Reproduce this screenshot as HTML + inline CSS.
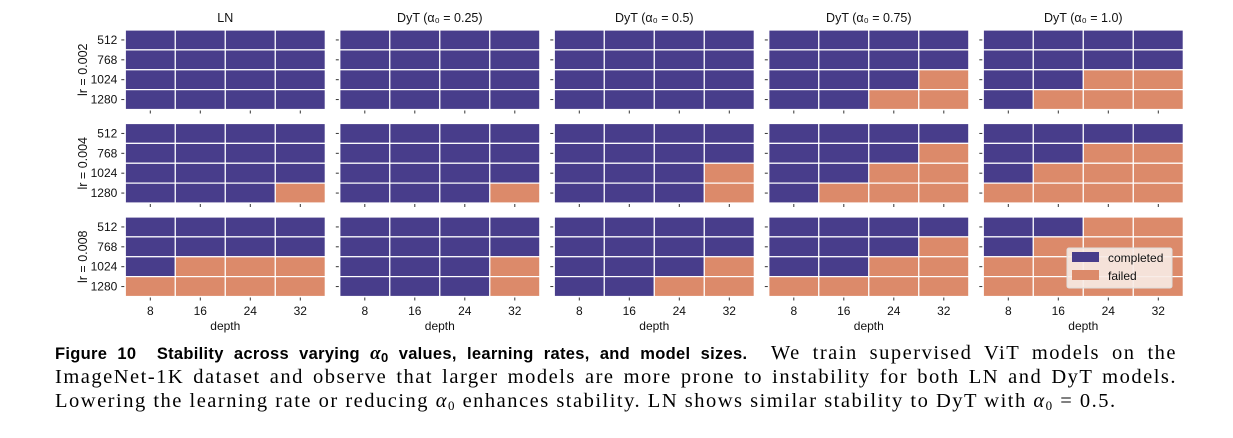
<!DOCTYPE html>
<html><head><meta charset="utf-8"><style>
body{margin:0;background:#fff;width:1233px;height:438px;overflow:hidden;position:relative;font-family:"Liberation Sans",sans-serif}
#cap{position:absolute;left:55px;top:341px;width:1122px;font-family:"Liberation Serif",serif;font-size:20.5px;letter-spacing:1.5px;line-height:24px;color:#000}
#cap div{text-align:justify;text-align-last:justify;white-space:nowrap;height:24px}
#cap div.last{text-align-last:left}
#cap b{font-family:"Liberation Sans",sans-serif;font-size:16.5px;letter-spacing:0.3px}
sub{line-height:0;font-size:13px;vertical-align:-3px}
</style></head><body>
<svg id="chart" width="1233" height="335" style="position:absolute;left:0;top:0" font-family="Liberation Sans, sans-serif"></svg>
<div id="cap">
<div style="white-space:normal"><b>Figure 10&nbsp;&nbsp;Stability across varying <i style="font-family:'Liberation Serif',serif;font-size:19px">α</i><sub>0</sub> values, learning rates, and model sizes.</b>&nbsp; We train supervised ViT models on the</div>
<div style="white-space:normal">ImageNet-1K dataset and observe that larger models are more prone to instability for both LN and DyT models.</div>
<div class="last">Lowering the learning rate or reducing <i>α</i><sub>0</sub> enhances stability. LN shows similar stability to DyT with <i>α</i><sub>0</sub> = 0.5.</div>
</div>
<script>
const panels=["LN","DyT (α₀ = 0.25)","DyT (α₀ = 0.5)","DyT (α₀ = 0.75)","DyT (α₀ = 1.0)"];
const lrs=["lr = 0.002","lr = 0.004","lr = 0.008"];
const sizes=["512","768","1024","1280"];
const depths=["8","16","24","32"];
// status[panel][lr][size][depth]: 1 = failed
const statusLN=[[[0,0,0,0],[0,0,0,0],[0,0,0,0],[0,0,0,0]],[[0,0,0,0],[0,0,0,0],[0,0,0,0],[0,0,0,1]],[[0,0,0,0],[0,0,0,0],[0,1,1,1],[1,1,1,1]]];
const statusD025=[[[0,0,0,0],[0,0,0,0],[0,0,0,0],[0,0,0,0]],[[0,0,0,0],[0,0,0,0],[0,0,0,0],[0,0,0,1]],[[0,0,0,0],[0,0,0,0],[0,0,0,1],[0,0,0,1]]];
const statusD05=[[[0,0,0,0],[0,0,0,0],[0,0,0,0],[0,0,0,0]],[[0,0,0,0],[0,0,0,0],[0,0,0,1],[0,0,0,1]],[[0,0,0,0],[0,0,0,0],[0,0,0,1],[0,0,1,1]]];
const statusD075=[[[0,0,0,0],[0,0,0,0],[0,0,0,1],[0,0,1,1]],[[0,0,0,0],[0,0,0,1],[0,0,1,1],[0,1,1,1]],[[0,0,0,0],[0,0,0,1],[0,0,1,1],[1,1,1,1]]];
const statusD10=[[[0,0,0,0],[0,0,0,0],[0,0,1,1],[0,1,1,1]],[[0,0,0,0],[0,0,1,1],[0,1,1,1],[1,1,1,1]],[[0,0,1,1],[0,1,1,1],[1,1,1,1],[1,1,1,1]]];
const status=[statusLN,statusD025,statusD05,statusD075,statusD10];

const svg=document.getElementById('chart');
const NS='http://www.w3.org/2000/svg';
function mk(t,a,txt){const e=document.createElementNS(NS,t);for(const k in a)e.setAttribute(k,a[k]);if(txt!==undefined)e.textContent=txt;svg.appendChild(e);return e;}
const PX0=125.3,PSTEP=214.5,PW=200,PY=[30,123.5,217],PH=79.5;
const cw=PW/depths.length,ch=PH/sizes.length;
function xCell(p,j){return PX0+p*PSTEP+j*cw;}
function yCell(r,i){return PY[r]+i*ch;}
const C_OK="#483d8b",C_FAIL="#dc8a6a";
for(let p=0;p<panels.length;p++){
  let t=mk('text',{x:PX0+p*PSTEP+PW/2,y:22,'text-anchor':'middle','font-size':12.5,fill:'#111'},panels[p]);
  
  
  for(let r=0;r<lrs.length;r++){
    for(let i=0;i<sizes.length;i++)for(let j=0;j<depths.length;j++){
      const f=status[p][r][i][j];
      const c=mk('rect',{x:xCell(p,j),y:yCell(r,i),width:cw,height:ch,fill:f?C_FAIL:C_OK,stroke:'#fff','stroke-width':1.2});
      
      
    }
    for(let i=0;i<sizes.length;i++){
      const y=yCell(r,i)+ch/2;
      mk('line',{x1:PX0+p*PSTEP-4,x2:PX0+p*PSTEP-1,y1:y,y2:y,stroke:'#333','stroke-width':1});
      if(p===0){const l=mk('text',{x:PX0-8,y:y+4,'text-anchor':'end','font-size':12,fill:'#111'},sizes[i]);
        
        }
    }
    for(let j=0;j<depths.length;j++){
      const x=xCell(p,j)+cw/2;
      mk('line',{x1:x,x2:x,y1:PY[r]+PH+1,y2:PY[r]+PH+4,stroke:'#333','stroke-width':1});
    }
    if(p===0){const cy=PY[r]+PH/2;const l=mk('text',{x:0,y:0,transform:`translate(87,${cy}) rotate(-90)`,'text-anchor':'middle','font-size':12.5,fill:'#111'},lrs[r]);
      
      }
  }
  for(let j=0;j<depths.length;j++){
    const l=mk('text',{x:xCell(p,j)+cw/2,y:315,'text-anchor':'middle','font-size':12,fill:'#111'},depths[j]);
    
    
  }
  const xl=mk('text',{x:PX0+p*PSTEP+PW/2,y:330,'text-anchor':'middle','font-size':12,fill:'#111'},'depth');
  
  
}
const lg=mk('rect',{x:1067,y:248,width:105,height:40,rx:2,fill:'#f7ebe6','fill-opacity':0.9,stroke:'#ddd'});


mk('rect',{x:1072,y:252,width:27,height:10,fill:C_OK});
const l1=mk('text',{x:1108,y:262,'font-size':12,fill:'#111'},'completed');


mk('rect',{x:1072,y:270,width:27,height:10,fill:C_FAIL});
const l2=mk('text',{x:1108,y:280,'font-size':12,fill:'#111'},'failed');


</script>
</body></html>
